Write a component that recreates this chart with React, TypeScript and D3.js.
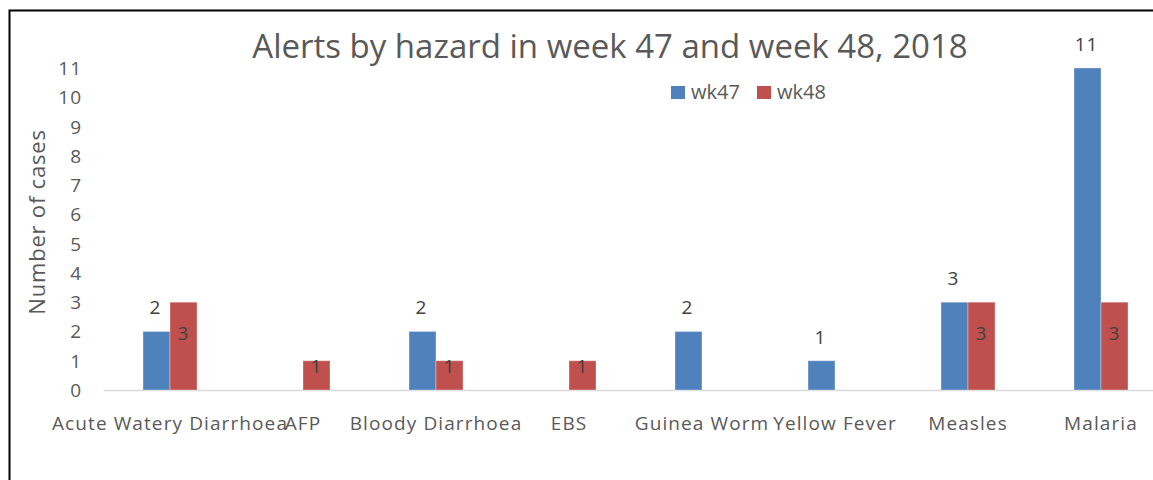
import * as d3 from 'd3';
import { useEffect, useRef } from 'react';

// data
const categories = ['Acute Watery Diarrhoea', 'AFP', 'Bloody Diarrhoea', 'EBS', 'Guinea Worm', 'Yellow Fever', 'Measles', 'Malaria'];
const seriesNames = ['wk47', 'wk48'];
const wk47 = [2, 0, 2, 0, 2, 1, 3, 11];
const wk48 = [3, 1, 1, 1, 0, 0, 3, 3];
const yTicks = [0, 1, 2, 3, 4, 5, 6, 7, 8, 9, 10, 11];

const colors = ['#4F81BD', '#C0504D'];
const font = '"Open Sans", sans-serif';

const width = 1153;
const height = 480;
const plot = { left: 103.5, right: 1167.5, top: 68, bottom: 390 };

function App() {
    const svgRef = useRef(null);

    useEffect(() => {
        const svg = d3.select(svgRef.current);
        svg.selectAll('*').remove();

        // outer frame of the chart (runs off the right and bottom edges)
        svg.append('rect')
            .attr('x', 9.5).attr('y', 10.5)
            .attr('width', 1200).attr('height', 520)
            .attr('fill', 'white').attr('stroke', 'black').attr('stroke-width', 2);

        const pad = 79 / 133;
        const x0 = d3.scaleBand().domain(categories).range([plot.left, plot.right])
            .paddingInner(pad).paddingOuter(pad / 2);
        const x1 = d3.scaleBand().domain(seriesNames).range([0, x0.bandwidth()]);
        const y = d3.scaleLinear().domain([0, 11]).range([plot.bottom, plot.top]);

        // title
        svg.append('text')
            .attr('x', 610).attr('y', 58)
            .attr('text-anchor', 'middle')
            .attr('font-family', font).attr('font-size', 33)
            .attr('fill', '#595959')
            .text('Alerts by hazard in week 47 and week 48, 2018');

        // y axis label
        svg.append('text')
            .attr('transform', `translate(45, ${(plot.top + plot.bottom) / 2 - 7}) rotate(-90)`)
            .attr('text-anchor', 'middle')
            .attr('font-family', font).attr('font-size', 22)
            .attr('letter-spacing', 0.8)
            .attr('fill', '#595959')
            .text('Number of cases');

        // y tick labels (no axis line in the original)
        svg.append('g').selectAll('text').data(yTicks).enter().append('text')
            .attr('x', 82).attr('y', d => y(d) + 7)
            .attr('text-anchor', 'end')
            .attr('font-family', font).attr('font-size', 19)
            .attr('letter-spacing', 1)
            .attr('fill', '#595959')
            .text(d => d);

        // baseline
        svg.append('line')
            .attr('x1', plot.left).attr('x2', plot.right)
            .attr('y1', y(0) + 0.5).attr('y2', y(0) + 0.5)
            .attr('stroke', '#d9d9d9').attr('stroke-width', 1.5);

        const rows = categories.map((c, i) => ({ cat: c, values: [wk47[i], wk48[i]] }));

        const groups = svg.append('g').selectAll('g').data(rows).enter().append('g')
            .attr('transform', d => `translate(${x0(d.cat)}, 0)`);

        groups.selectAll('rect')
            .data(d => d.values.map((v, s) => ({ v, s })))
            .enter().append('rect')
            .attr('x', d => x1(seriesNames[d.s]))
            .attr('width', x1.bandwidth())
            .attr('y', d => y(d.v))
            .attr('height', d => y(0) - y(d.v))
            .attr('fill', d => colors[d.s])
            .attr('stroke', d => d.v > 0 ? 'rgba(255,255,255,0.35)' : 'none')
            .attr('stroke-width', 1);

        // data labels: wk47 above the bar, wk48 just inside the top
        groups.selectAll('text.lbl')
            .data(d => d.values.map((v, s) => ({ v, s })).filter(d => d.v > 0))
            .enter().append('text')
            .attr('class', 'lbl')
            .attr('x', d => x1(seriesNames[d.s]) + x1.bandwidth() / 2 - (d.s === 0 ? 1 : 0))
            .attr('y', d => d.s === 0 ? y(d.v) - 17 : y(d.v) + (d.v === 1 ? 12 : 38))
            .attr('text-anchor', 'middle')
            .attr('font-family', font).attr('font-size', 19)
            .attr('letter-spacing', 1)
            .attr('fill', '#404040')
            .text(d => d.v);

        // category labels
        svg.append('g').selectAll('text').data(categories).enter().append('text')
            .attr('x', d => x0(d) + x0.bandwidth() / 2)
            .attr('y', 430)
            .attr('text-anchor', 'middle')
            .attr('font-family', font).attr('font-size', 19)
            .attr('letter-spacing', 1.1)
            .attr('fill', '#595959')
            .text(d => d);

        // legend
        const legend = svg.append('g').attr('transform', 'translate(671, 86)');
        seriesNames.forEach((name, i) => {
            const g = legend.append('g').attr('transform', `translate(${i * 86}, 0)`);
            g.append('rect').attr('width', 14).attr('height', 13).attr('fill', colors[i]);
            g.append('text')
                .attr('x', 20).attr('y', 13)
                .attr('font-family', font).attr('font-size', 20)
                .attr('fill', '#595959')
                .text(name);
        });
    }, []);

    return (
        <svg ref={svgRef} width={width} height={height}
            style={{ position: 'absolute', left: 0, top: 0, background: 'white' }} />
    );
}

export default App;
